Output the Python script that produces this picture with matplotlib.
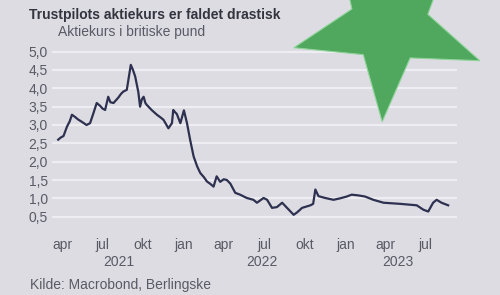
import numpy as np
import pandas as pd
import matplotlib
matplotlib.use("Agg")
import matplotlib.pyplot as plt
from matplotlib.patches import Polygon
from matplotlib.transforms import blended_transform_factory

# ---- data ----
dates = [
    "2021-03-23", "2021-03-29", "2021-04-04", "2021-04-12", "2021-04-18", "2021-04-23",
    "2021-04-30", "2021-05-07", "2021-05-15", "2021-05-26", "2021-06-03", "2021-06-10",
    "2021-06-18", "2021-06-26", "2021-07-01", "2021-07-07", "2021-07-14", "2021-07-19",
    "2021-07-26", "2021-08-06", "2021-08-12", "2021-08-17", "2021-08-25", "2021-09-03",
    "2021-09-08", "2021-09-13", "2021-09-20", "2021-09-24", "2021-09-28", "2021-10-02",
    "2021-10-06", "2021-10-09", "2021-10-20", "2021-11-01", "2021-11-10", "2021-11-16",
    "2021-11-27", "2021-12-05", "2021-12-08", "2021-12-12", "2021-12-16", "2021-12-24",
    "2022-01-01", "2022-01-08", "2022-01-15", "2022-01-23", "2022-01-31", "2022-02-07",
    "2022-02-15", "2022-02-22", "2022-03-01", "2022-03-09", "2022-03-16", "2022-03-24",
    "2022-04-01", "2022-04-08", "2022-04-16", "2022-04-27", "2022-05-08", "2022-05-23",
    "2022-06-07", "2022-06-15", "2022-06-30", "2022-07-08", "2022-07-19", "2022-07-30",
    "2022-08-11", "2022-08-22", "2022-09-06", "2022-09-14", "2022-09-25", "2022-10-14",
    "2022-10-20", "2022-10-25", "2022-11-01", "2022-11-16", "2022-12-05", "2022-12-20",
    "2023-01-04", "2023-01-15", "2023-01-30", "2023-02-14", "2023-03-05", "2023-03-28",
    "2023-05-04", "2023-06-11", "2023-06-26", "2023-07-07", "2023-07-18", "2023-07-26",
    "2023-08-06", "2023-08-21",
]
prices = [
    2.60, 2.66, 2.70, 2.96, 3.10, 3.28,
    3.22, 3.15, 3.09, 3.00, 3.05, 3.30,
    3.60, 3.52, 3.45, 3.41, 3.77, 3.62,
    3.60, 3.75, 3.85, 3.91, 3.96, 4.64,
    4.50, 4.32, 3.90, 3.50, 3.70, 3.77,
    3.60, 3.55, 3.41, 3.28, 3.20, 3.14,
    2.91, 3.05, 3.41, 3.35, 3.30, 3.05,
    3.40, 3.05, 2.60, 2.14, 1.87, 1.69,
    1.58, 1.46, 1.40, 1.32, 1.60, 1.45,
    1.52, 1.50, 1.40, 1.15, 1.10, 1.01,
    0.96, 0.88, 1.01, 0.96, 0.74, 0.76,
    0.88, 0.74, 0.55, 0.62, 0.74, 0.81,
    0.85, 1.24, 1.06, 1.01, 0.96, 1.00,
    1.05, 1.10, 1.08, 1.05, 0.96, 0.88,
    0.85, 0.81, 0.69, 0.64, 0.88, 0.96,
    0.88, 0.81,
]
y_ticks = [0.5, 1.0, 1.5, 2.0, 2.5, 3.0, 3.5, 4.0, 4.5, 5.0]
x_tick_dates = ["2021-04-01", "2021-07-01", "2021-10-01", "2022-01-01", "2022-04-01",
                "2022-07-01", "2022-10-01", "2023-01-01", "2023-04-01", "2023-07-01"]
x_tick_labels = ["apr", "jul", "okt", "jan", "apr", "jul", "okt", "jan", "apr", "jul"]
years = ["2021", "2022", "2023"]

title = "Trustpilots aktiekurs er faldet drastisk"
subtitle = "Aktiekurs i britiske pund"
source = "Kilde: Macrobond, Berlingske"

# ---- style ----
BG = "#dcdce2"
LINE = "#2e3050"
GRID = "#eeeef2"
TXT = "#5a5a66"
TITLE_C = "#34343e"
STAR = "#4fa85e"
W, H = 500, 295
FS = 10

plt.rcParams["font.family"] = ["Liberation Sans", "DejaVu Sans"]

fig = plt.figure(figsize=(W / 100, H / 100), dpi=100, facecolor=BG)

# axes placement in pixels: x 52..457, y (top) 48..224
ax_l, ax_r = 52, 457
ax_t, ax_b = 48, 224
ax = fig.add_axes([ax_l / W, 1 - ax_b / H, (ax_r - ax_l) / W, (ax_b - ax_t) / H])
ax.set_facecolor(BG)

d = pd.to_datetime(dates)
ax.plot(d, prices, color=LINE, lw=1.6, solid_joinstyle="round", zorder=3)

ax.set_ylim(0.3, 5.1)
ax.set_xlim(pd.Timestamp("2021-03-09"), pd.Timestamp("2023-09-10"))
ax.set_yticks(y_ticks)
ax.set_yticklabels([f"{v:.1f}".replace(".", ",") for v in y_ticks])
ax.set_xticks(pd.to_datetime(x_tick_dates))
ax.set_xticklabels(x_tick_labels)
ax.tick_params(axis="both", length=0, colors=TXT, labelsize=FS)
ax.tick_params(axis="y", pad=3)
ax.tick_params(axis="x", pad=10)
for s in ax.spines.values():
    s.set_visible(False)
ax.grid(axis="y", color=GRID, lw=1.6, zorder=1)
ax.grid(axis="x", visible=False)

# year labels centered on the data span of each year
tr = blended_transform_factory(ax.transData, fig.transFigure)
for yr in years:
    mask = d.year == int(yr)
    mid = d[mask].min() + (d[mask].max() - d[mask].min()) / 2
    ax.text(mid, 1 - 262 / H, yr, transform=tr, ha="center", va="center",
            fontsize=FS, color=TXT)

fig.text(29 / W, 1 - 15 / H, title, ha="left", va="center", fontsize=10,
         fontweight="bold", color=TITLE_C)
fig.text(58 / W, 1 - 32 / H, subtitle, ha="left", va="center", fontsize=FS, color=TXT)
fig.text(30 / W, 1 - 285 / H, source, ha="left", va="center", fontsize=FS, color=TXT)

# decorative star overlay (screen pixel geometry -> figure fraction)
cx, cy, R, r, rot = 389, 24, 98, 40, 4
pts = []
for k in range(10):
    ang = np.deg2rad(90 + rot + k * 36)
    rad = R if k % 2 == 0 else r
    px = cx + rad * np.cos(ang)
    py = cy + rad * np.sin(ang)
    pts.append((px / W, 1 - py / H))
fig.add_artist(Polygon(pts, closed=True, transform=fig.transFigure,
                       facecolor=STAR, edgecolor="#8fd49a", lw=0.8, zorder=10))

fig.savefig("out.png", dpi=100, facecolor=BG)
